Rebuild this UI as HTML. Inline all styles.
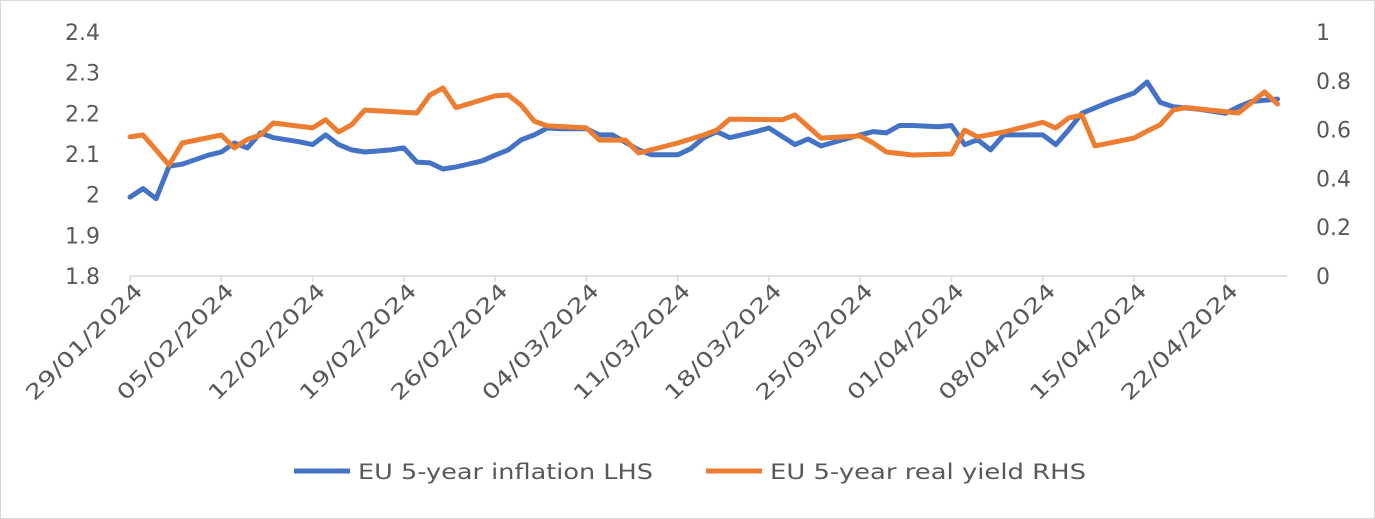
<!DOCTYPE html>
<html><head><meta charset="utf-8"><style>
body{margin:0;background:#fff;}
svg{display:block;font-family:"DejaVu Sans","Liberation Sans",sans-serif;}
</style></head><body>
<svg id="chart" width="1375" height="519" xmlns="http://www.w3.org/2000/svg">
<rect x="0.5" y="0.5" width="1374" height="518" fill="#fff" stroke="#d9d9d9"/>
<g id="axes"></g>
<g id="series"></g>
<g>
<line x1="294" y1="471" x2="350" y2="471" stroke="#4472C4" stroke-width="5"/>
<text x="358" y="479" font-size="21" fill="#595959" textLength="295" lengthAdjust="spacingAndGlyphs">EU 5-year inflation LHS</text>
<line x1="706" y1="471" x2="762" y2="471" stroke="#ED7D31" stroke-width="5"/>
<text x="770" y="479" font-size="21" fill="#595959" textLength="316" lengthAdjust="spacingAndGlyphs">EU 5-year real yield RHS</text>
</g>
</svg>
<script>
const tickDates=["29/01/2024","05/02/2024","12/02/2024","19/02/2024","26/02/2024","04/03/2024","11/03/2024","18/03/2024","25/03/2024","01/04/2024","08/04/2024","15/04/2024","22/04/2024"];
const leftTicks=[1.8,1.9,2,2.1,2.2,2.3,2.4];
const rightTicks=[0,0.2,0.4,0.6,0.8,1];
const inflDays=[0,1,2,3,4,6,7,8,9,10,11,13,14,15,16,17,18,20,21,22,23,24,25,27,28,29,30,31,32,33,35,36,37,39,40,42,43,44,45,46,48,49,51,52,53,56,57,58,59,60,62,63,64,65,66,67,70,71,72,73,75,77,78,79,80,82,84,85,86,87,88];
const inflVals=[1.994,2.015,1.99,2.07,2.075,2.097,2.105,2.127,2.115,2.152,2.14,2.13,2.123,2.147,2.123,2.11,2.105,2.11,2.115,2.08,2.078,2.063,2.068,2.083,2.097,2.11,2.135,2.147,2.164,2.162,2.162,2.147,2.147,2.11,2.098,2.098,2.113,2.14,2.155,2.14,2.155,2.164,2.123,2.137,2.12,2.147,2.155,2.152,2.17,2.17,2.167,2.17,2.123,2.135,2.11,2.147,2.147,2.123,2.16,2.2,2.227,2.25,2.277,2.227,2.216,2.21,2.2,2.216,2.229,2.232,2.235];
const ryDays=[0,1,3,4,7,8,9,10,11,14,15,16,17,18,22,23,24,25,28,29,30,31,32,35,36,38,39,42,44,45,46,50,51,53,56,57,58,60,63,64,65,67,70,71,72,73,74,77,78,79,80,81,85,87,88];
const ryVals=[0.57,0.578,0.455,0.545,0.578,0.525,0.56,0.578,0.627,0.607,0.64,0.59,0.62,0.68,0.668,0.742,0.77,0.69,0.738,0.742,0.70,0.635,0.615,0.607,0.557,0.557,0.504,0.545,0.578,0.598,0.643,0.64,0.66,0.565,0.574,0.545,0.508,0.496,0.5,0.598,0.57,0.59,0.63,0.607,0.648,0.66,0.533,0.565,0.594,0.62,0.68,0.69,0.668,0.754,0.705];

const X0=130,DAY=13.04,YT=32,YB=276;
const xS=d=>X0+d*DAY;
const yL=v=>YB-(v-1.8)/(2.4-1.8)*(YB-YT);
const yR=v=>YB-(v-0)/(1-0)*(YB-YT);
const NS="http://www.w3.org/2000/svg";
const axes=document.getElementById('axes'), ser=document.getElementById('series');
function mk(tag,attrs,parent){const e=document.createElementNS(NS,tag);for(const k in attrs)e.setAttribute(k,attrs[k]);parent.appendChild(e);return e;}
const xa=mk('line',{x1:X0,y1:YB,x2:1287,y2:YB,stroke:'#d9d9d9','stroke-width':1.5},axes);


leftTicks.forEach(v=>{const t=mk('text',{x:100,y:yL(v)+8,'font-size':22,fill:'#595959','text-anchor':'end'},axes);t.textContent=String(v);

});
rightTicks.forEach(v=>{const t=mk('text',{x:1316,y:yR(v)+8,'font-size':22,fill:'#595959','text-anchor':'start'},axes);t.textContent=String(v);

});
tickDates.forEach((d,i)=>{const x=xS(i*7);
const tk=mk('line',{x1:x,y1:YB,x2:x,y2:YB+6,stroke:'#d9d9d9','stroke-width':1.5},axes);


const ax=x+14, ay=YB+16;
const t=mk('text',{x:ax,y:ay,'font-size':21,fill:'#595959','text-anchor':'end',textLength:155,lengthAdjust:'spacingAndGlyphs',transform:`rotate(-45 ${ax} ${ay})`},axes);t.textContent=d;

});
function line(days,vals,ys,color,name){const p=days.map((d,i)=>xS(d).toFixed(1)+','+ys(vals[i]).toFixed(1)).join(' ');
const l=mk('polyline',{points:p,fill:'none',stroke:color,'stroke-width':5,'stroke-linejoin':'round','stroke-linecap':'round'},ser);

}
line(inflDays,inflVals,yL,'#4472C4','inflation-line');
line(ryDays,ryVals,yR,'#ED7D31','real-yield-line');
</script>
</body></html>
